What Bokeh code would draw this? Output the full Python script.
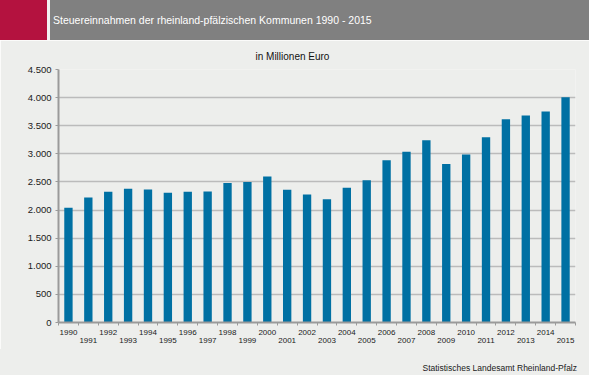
from bokeh.plotting import figure
from bokeh.models import Range1d, FixedTicker, LinearAxis, Title, Div
from bokeh.layouts import column
from bokeh.embed import file_html
from bokeh.resources import INLINE

years = [str(y) for y in range(1990, 2016)]
revenues = [2040, 2225, 2325, 2378, 2365, 2310, 2325, 2328, 2480, 2497,
            2598, 2361, 2277, 2192, 2395, 2531, 2886, 3039, 3243, 2818,
            2988, 3294, 3616, 3684, 3752, 4007]
y_ticks = [0, 500, 1000, 1500, 2000, 2500, 3000, 3500, 4000, 4500]
y_tick_labels = ["0", "500", "1.000", "1.500", "2.000", "2.500", "3.000", "3.500", "4.000", "4.500"]
title_text = "Steuereinnahmen der rheinland-pfälzischen Kommunen 1990 - 2015"
unit_text = "in Millionen Euro"
source_text = "Statistisches Landesamt Rheinland-Pfalz"

FONT = "Liberation Sans"
BG = "#EDEEEC"
AX = "#9A9A9A"
W = 589
HDR_H = 40
FTR_H = 26

# ---------- header (HTML) ----------
header_html = (
    f'<div style="position:relative;width:{W}px;height:{HDR_H}px;background:#808080;">'
    f'<div style="position:absolute;left:0;top:0;width:47px;height:{HDR_H}px;background:#B4123F;"></div>'
    f'<div style="position:absolute;left:47px;top:0;width:3px;height:{HDR_H}px;background:#F2F2F2;"></div>'
    f'<div style="position:absolute;left:53px;top:0;height:{HDR_H}px;line-height:{HDR_H}px;'
    f'color:#FFFFFF;font-family:\'{FONT}\';font-size:10.5px;white-space:nowrap;">{title_text}</div>'
    f'</div>'
)
hdr = Div(text=header_html, width=W, height=HDR_H, margin=0)

# ---------- footer (HTML) ----------
footer_html = (
    f'<div style="position:relative;width:{W}px;height:{FTR_H}px;background:{BG};">'
    f'<div style="position:absolute;right:12px;top:14px;line-height:10px;color:#1A1A1A;'
    f'font-family:\'{FONT}\';font-size:8.5px;white-space:nowrap;">{source_text}</div>'
    f'</div>'
)
ftr = Div(text=footer_html, width=W, height=FTR_H, margin=0)

# ---------- main chart ----------
n = len(years)
idx = list(range(n))

p = figure(width=W, height=375 - HDR_H - FTR_H, output_backend="svg", toolbar_location=None,
           x_range=Range1d(-0.5, n - 0.5), y_range=Range1d(0, 4500),
           min_border_left=58, min_border_right=14, min_border_top=28, min_border_bottom=27)
p.background_fill_color = BG
p.border_fill_color = BG
p.outline_line_color = None

p.vbar(x=idx, top=revenues, width=0.42, fill_color="#0070A3", line_color=None)

# y axis
p.yaxis.ticker = FixedTicker(ticks=y_ticks)
p.yaxis.major_label_overrides = {t: l for t, l in zip(y_ticks, y_tick_labels)}
p.yaxis.minor_tick_line_color = None
p.yaxis.major_tick_in = 0
p.yaxis.major_tick_out = 3
p.yaxis.major_label_standoff = 4
p.yaxis.axis_line_color = AX
p.yaxis.axis_line_width = 2
p.yaxis.major_tick_line_color = AX
p.yaxis.major_label_text_font = FONT
p.yaxis.major_label_text_font_size = "9.5px"
p.yaxis.major_label_text_color = "#1A1A1A"

# x axis: labels for even years, tick marks at category boundaries (minor ticks)
xa = p.xaxis[0]
xa.ticker = FixedTicker(ticks=idx[0::2], minor_ticks=[i - 0.5 for i in range(n + 1)])
xa.major_label_overrides = {i: years[i] for i in idx[0::2]}
xa.major_tick_in = 0
xa.major_tick_out = 0
xa.minor_tick_in = 0
xa.minor_tick_out = 3
xa.minor_tick_line_color = AX
xa.axis_line_color = AX
xa.axis_line_width = 2
xa.major_label_standoff = 4
xa.major_label_text_font = FONT
xa.major_label_text_font_size = "8px"
xa.major_label_text_color = "#1A1A1A"

# second row: odd years
xb = LinearAxis(ticker=FixedTicker(ticks=idx[1::2]),
                major_label_overrides={i: years[i] for i in idx[1::2]},
                axis_line_color=None, major_tick_line_color=None, minor_tick_line_color=None,
                major_tick_in=0, major_tick_out=0, major_label_standoff=0,
                major_label_text_font=FONT, major_label_text_font_size="8px",
                major_label_text_color="#1A1A1A")
p.add_layout(xb, "below")

p.xgrid.visible = False
p.ygrid.ticker = FixedTicker(ticks=y_ticks)
p.ygrid.grid_line_color = "#BBBBBB"
p.ygrid.grid_line_width = 1.5

p.title = Title(text=unit_text, align="left", offset=197, standoff=16,
                text_font=FONT, text_font_size="10px", text_font_style="normal",
                text_color="#111111")

layout = column(hdr, p, ftr, spacing=0)
open("out.html", "w").write(file_html(layout, INLINE))
